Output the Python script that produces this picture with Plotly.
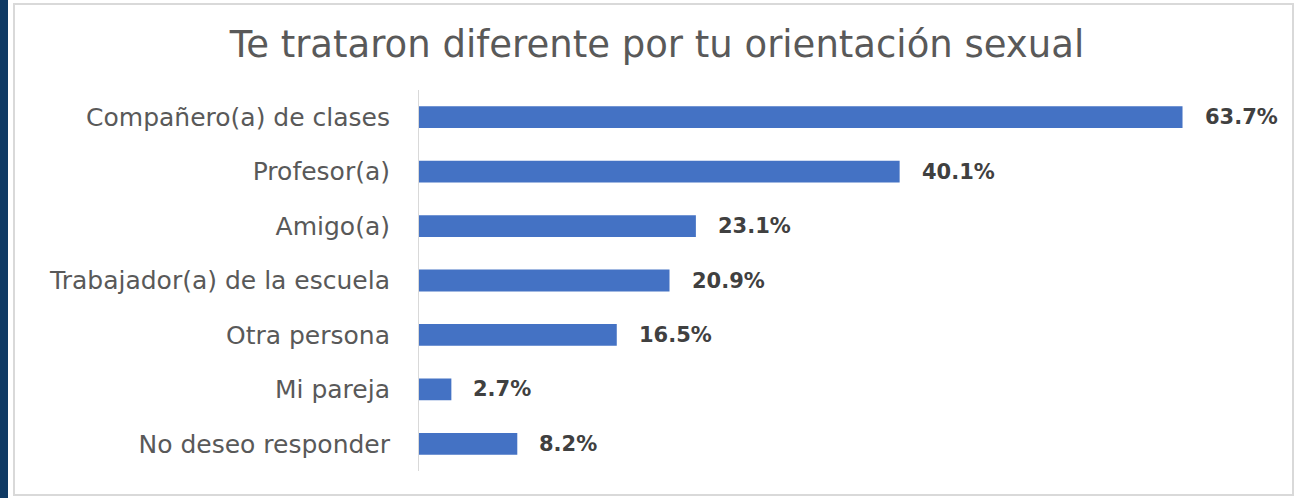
import plotly.graph_objects as go

categories = [
    "Compañero(a) de clases",
    "Profesor(a)",
    "Amigo(a)",
    "Trabajador(a) de la escuela",
    "Otra persona",
    "Mi pareja",
    "No deseo responder",
]
values = [63.7, 40.1, 23.1, 20.9, 16.5, 2.7, 8.2]

W, H = 1297, 498
L, R, T, B = 419, 15, 90, 27


def px_x(px):
    return (px - L) / (W - L - R)


def px_y(py):
    return 1 - (py - T) / (H - T - B)


fig = go.Figure()

fig.add_trace(go.Bar(
    x=values, y=categories,
    orientation="h",
    marker=dict(color="#4472c4", line=dict(width=0)),
    cliponaxis=False,
    hoverinfo="skip",
))

for c, v in zip(categories, values):
    fig.add_annotation(
        x=v, y=c, text=f"<b>{v:.1f}%</b>",
        showarrow=False, xanchor="left", xshift=20,
        font=dict(family="DejaVu Sans", size=21, color="#404040"),
    )

# chart frame and dark side strip
fig.add_shape(type="rect", xref="paper", yref="paper",
              x0=px_x(14), x1=px_x(1293), y0=px_y(495), y1=px_y(4),
              line=dict(color="#d9d9d9", width=2), fillcolor="rgba(0,0,0,0)", layer="below")
fig.add_shape(type="rect", xref="paper", yref="paper",
              x0=px_x(-2), x1=px_x(8), y0=px_y(H + 2), y1=px_y(-2),
              line=dict(width=0), fillcolor="#0f3a64", layer="below")

fig.update_layout(
    width=W, height=H,
    margin=dict(l=L, r=R, t=T, b=B),
    paper_bgcolor="white", plot_bgcolor="white",
    title=dict(text="Te trataron diferente por tu orientación sexual",
               x=657 / W, xanchor="center", y=1 - 44 / H, yanchor="middle",
               font=dict(family="DejaVu Sans", size=37, color="#595959")),
    bargap=0.6,
    showlegend=False,
    xaxis=dict(range=[0, 72], visible=False, fixedrange=True),
    yaxis=dict(autorange="reversed", showline=True, linecolor="#d9d9d9", linewidth=1,
               ticks="", ticklabelstandoff=23, showgrid=False, fixedrange=True,
               tickfont=dict(family="DejaVu Sans", size=25, color="#595959")),
)

fig.write_html("out.html", config={"displayModeBar": False},
               post_script="document.body.style.margin='0px';")
